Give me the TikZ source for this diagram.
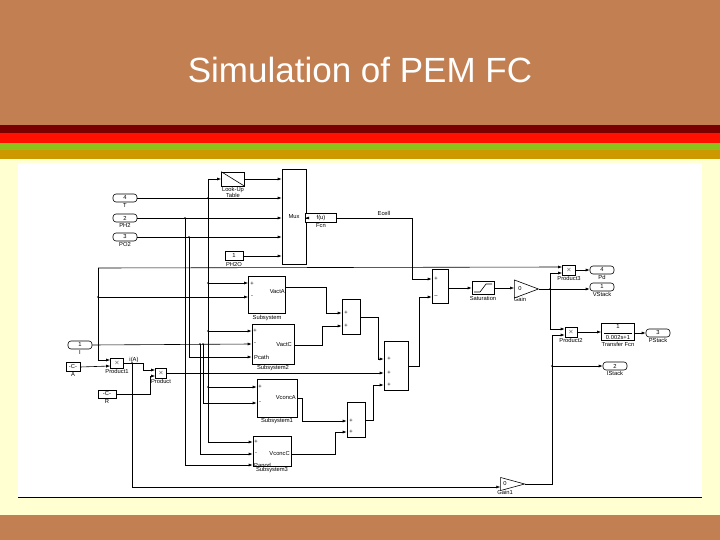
\documentclass[tikz,border=0pt]{standalone}
\usepackage{fontspec}
\setmainfont{Liberation Sans}
\usetikzlibrary{arrows.meta,shapes.geometric,positioning}
\definecolor{brn}{HTML}{C17F52}
\definecolor{dred}{HTML}{7A0000}
\definecolor{rred}{HTML}{FF1000}
\definecolor{ygrn}{HTML}{8CC21A}
\definecolor{gold}{HTML}{CC9900}
\definecolor{cream}{HTML}{FFFFD2}
\begin{document}
\begin{tikzpicture}[x=1pt,y=-1pt,
  every node/.style={inner sep=0pt,font=\fontsize{5.8}{6}\selectfont},
  blk/.style={draw,line width=0.6pt,fill=white},
  port/.style={draw,line width=0.6pt,rounded corners=3pt,minimum width=24pt,minimum height=8pt},
  tri/.style={draw,line width=0.6pt,isosceles triangle,isosceles triangle stretches,minimum height=24pt,minimum width=18pt,inner sep=0pt},
  lb/.style={font=\fontsize{5.8}{6}\selectfont},
  w/.style={line width=0.6pt},
  a/.style={w,-{Latex[length=4pt,width=3pt]}},
  dot/.style={circle,fill,inner sep=0.7pt}]
\useasboundingbox (0,0) rectangle (720,540);
\fill[brn] (0,0) rectangle (720,125);
\fill[dred] (0,125) rectangle (720,133);
\fill[rred] (0,133) rectangle (720,143);
\fill[ygrn] (0,143) rectangle (720,150);
\fill[gold] (0,150) rectangle (720,159);
\fill[cream] (0,159) rectangle (720,515);
\fill[brn] (0,515) rectangle (720,540);
\fill[white] (18,163) rectangle (702,497);
\draw[line width=0.9pt] (18,497) -- (702,497);
\node[text=white,font=\fontsize{35}{40}\selectfont] (title) at (360,70) {Simulation of PEM FC};

% blocks
\node[port] (t) at (125,198) {4}; \node[lb,below=1pt of t] {T};
\node[port] (ph2) at (125,218) {2}; \node[lb,below=1pt of ph2] {PH2};
\node[port] (po2) at (125,237) {3}; \node[lb,below=1pt of po2] {PO2};
\node[port] (iin) at (80,345) {1}; \node[lb,below=1pt of iin] {I};
\node[blk,minimum width=23pt,minimum height=14pt] (lut) at (233,179) {};
\draw[w] (lut.north west) -- (lut.south east);
\node[lb,below=1pt of lut,align=center] {Look-Up\\Table};
\node[blk,minimum width=24pt,minimum height=95pt] (mux) at (294,217) {Mux};
\node[blk,minimum width=18pt,minimum height=9pt] (ph2o) at (234,256) {1};
\node[lb,below=1pt of ph2o] {PH2O};
\node[blk,minimum width=31pt,minimum height=9pt] (fcn) at (321,218) {f(u)};
\node[lb,below=1pt of fcn] {Fcn};
\node[blk,minimum width=16pt,minimum height=34pt] (suma) at (440,286) {};
\node[lb] at (436,279) {+}; \node[lb] at (436,297) {--};
\node[blk,minimum width=22pt,minimum height=13pt] (sat) at (483,288) {};
\draw[w] (474,292) -- (480,292) -- (486,284) -- (492,284);
\node[lb,below=1pt of sat] {Saturation};
\node[tri] (gain) at (520,289) {0}; \node[lb,below=1pt of gain] {Gain};
\node[blk,minimum width=13pt,minimum height=10pt] (p3) at (569,270) {$\times$};
\node[lb,below=1pt of p3] {Product3};
\node[port] (pd) at (602,270) {4}; \node[lb,below=0.5pt of pd] {Pd};
\node[port] (vst) at (602,287) {1}; \node[lb,below=0.5pt of vst] {VStack};
\node[blk,minimum width=12pt,minimum height=10pt] (p2) at (571,332) {$\times$};
\node[lb,below=1pt of p2] {Product2};
\node[blk,minimum width=33pt,minimum height=17pt,align=center] (tf) at (618,332) {1\\[-1pt]\rule{28pt}{0.3pt}\\0.002s+1};
\node[lb,below=1pt of tf] {Transfer Fcn};
\node[port] (pst) at (658,333) {3}; \node[lb,below=0.5pt of pst] {PStack};
\node[port] (ist) at (615,366) {2}; \node[lb,below=0.5pt of ist] {IStack};

\node[blk,minimum width=37pt,minimum height=37pt] (s0) at (267,295) {};
\node[lb,anchor=east] at (285,292) {VactA};
\node[lb] at (252,284) {+}; \node[lb] at (252,297) {-};
\node[lb,below=1pt of s0] {Subsystem};
\node[blk,minimum width=42pt,minimum height=40pt] (s2) at (273,344) {};
\node[lb,anchor=east] at (292,345) {VactC};
\node[lb] at (255,331) {+}; \node[lb] at (255,344) {-};
\node[lb,anchor=west] at (254,357) {Pcath};
\node[lb,below=1pt of s2] {Subsystem2};
\node[blk,minimum width=40pt,minimum height=38pt] (s1) at (277,398) {};
\node[lb,anchor=east] at (296,398) {VconcA};
\node[lb] at (260,387) {+}; \node[lb] at (260,403) {-};
\node[lb,below=1pt of s1] {Subsystem1};
\node[blk,minimum width=38pt,minimum height=30pt] (s3) at (272,451) {};
\node[lb,anchor=east] at (290,454) {VconcC};
\node[lb] at (256,442) {+}; \node[lb] at (256,454) {-};
\node[lb,anchor=west] at (254,465) {Panod};
\node[lb,below=1pt of s3] {Subsystem3};

\node[blk,minimum width=18pt,minimum height=35pt] (sum1) at (351,317) {};
\node[lb] at (346,313) {+}; \node[lb] at (346,326) {+};
\node[blk,minimum width=24pt,minimum height=49pt] (bs) at (396,366) {};
\node[lb] at (389,359) {+}; \node[lb] at (389,373) {+}; \node[lb] at (389,385) {+};
\node[blk,minimum width=18pt,minimum height=35pt] (sum2) at (356,420) {};
\node[lb] at (351,421) {+}; \node[lb] at (351,432) {+};

\node[blk,minimum width=14pt,minimum height=9pt] (ca) at (73,367) {-C-};
\node[lb,below=1pt of ca] {A};
\node[blk,minimum width=18pt,minimum height=8pt] (cr) at (107,394) {-C-};
\node[lb,below=1pt of cr] {R};
\node[blk,minimum width=13pt,minimum height=10pt] (pr1) at (117,363) {$\times$};
\node[lb,below=1pt of pr1] {Product1};
\node[blk,minimum width=11pt,minimum height=10pt] (pr) at (161,373) {$\times$};
\node[lb,below=1pt of pr] {Product};
\node[tri,minimum width=13pt] (g1) at (505,484) {0}; \node[lb,below=0.5pt of g1] {Gain1};
\node[lb] (ecl) at (384,213) {Ecell};
\node[lb] (ia) at (134,360) {i(A)};

% wires
\draw[a] (t.east) -- (mux.west|-t.east);
\draw[w] (208,179) -- (208,442);
\node[dot] at (208,198) {};
\draw[a] (208,179) -- (lut.west);
\draw[a] (lut.east) -- (mux.west|-lut.east);
\draw[a] (ph2.east) -- (mux.west|-ph2.east);
\draw[a] (po2.east) -- (mux.west|-po2.east);
\draw[a] (ph2o.east) -- (mux.west|-ph2o.east);
\draw[a] (mux.east|-fcn.west) -- (fcn.west);
\draw[a] (fcn.east) -- (412,218) -- (412,279) -- (suma.west|-0,279);
\node[dot] at (208,283) {}; \draw[a] (208,283) -- (s0.west|-0,283);
\node[dot] at (208,331) {}; \draw[a] (208,331) -- (s2.west|-0,331);
\node[dot] at (208,387) {}; \draw[a] (208,387) -- (s1.west|-0,387);
\draw[a] (208,442) -- (s3.west|-0,442);
\node[dot] at (185,218) {}; \draw[a] (185,218) -- (185,465) -- (s3.west|-0,465);
\node[dot] at (189,237) {}; \draw[a] (189,237) -- (189,357) -- (s2.west|-0,357);
\draw[a] (98,268) -- (p3.west|-0,267);
\draw[a] (98,268) -- (98,360) -- (pr1.west|-0,360);
\node[dot] at (98,297) {}; \draw[a] (98,297) -- (s0.west|-0,297);
\draw[a] (iin.east) -- (s2.west|-0,344);
\node[dot] at (200,344) {}; \draw[a] (200,344) -- (200,454) -- (s3.west|-0,454);
\node[dot] at (203,344) {}; \draw[a] (203,344) -- (203,403) -- (s1.west|-0,403);
\draw[a] (ca.east) -- (pr1.west|-0,366);
\draw[a] (pr1.east) -- (143,363) -- (143,370) -- (pr.west|-0,370);
\node[dot] at (132,363) {}; \draw[a] (132,363) -- (132,487) -- (g1.west|-0,487);
\draw[a] (cr.east) -- (150,394) -- (150,376) -- (pr.west|-0,376);
\draw[a] (pr.east) -- (bs.west|-0,373);
\draw[a] (s0.east|-0,287) -- (326,287) -- (326,313) -- (sum1.west|-0,313);
\draw[a] (s2.east|-0,345) -- (322,345) -- (322,326) -- (sum1.west|-0,326);
\draw[a] (sum1.east) -- (378,317) -- (378,359) -- (bs.west|-0,359);
\draw[a] (s1.east|-0,398) -- (302,398) -- (302,421) -- (sum2.west|-0,421);
\draw[a] (s3.east|-0,454) -- (335,454) -- (335,432) -- (sum2.west|-0,432);
\draw[a] (sum2.east) -- (373,420) -- (373,385) -- (bs.west|-0,385);
\draw[a] (bs.east) -- (419,366) -- (419,297) -- (suma.west|-0,297);
\draw[a] (suma.east|-sat.west) -- (sat.west);
\draw[a] (sat.east) -- (gain.west|-sat.east);
\draw[a] (gain.apex) -- (vst.west|-gain.apex);
\node[dot] at (550,289) {};
\draw[a] (550,289) -- (550,273) -- (p3.west|-0,273);
\draw[a] (550,289) -- (550,329) -- (p2.west|-0,329);
\draw[a] (g1.apex) -- (552,484) -- (552,335) -- (p2.west|-0,335);
\node[dot] at (552,366) {}; \draw[a] (552,366) -- (ist.west);
\draw[a] (p3.east) -- (pd.west);
\draw[a] (p2.east) -- (tf.west|-p2.east);
\draw[a] (tf.east|-pst.west) -- (pst.west);
\end{tikzpicture}
\end{document}
